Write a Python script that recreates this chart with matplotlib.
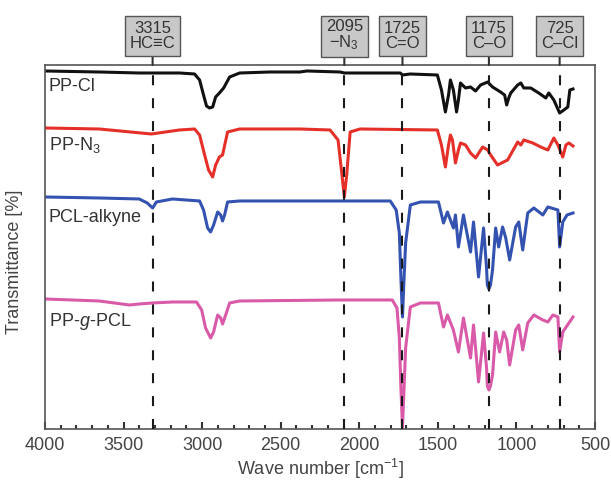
import numpy as np
import matplotlib
matplotlib.use('Agg')
import matplotlib.pyplot as plt
from matplotlib.ticker import MultipleLocator

plt.rcParams['font.family'] = ['Liberation Sans', 'DejaVu Sans']
plt.rcParams['mathtext.fontset'] = 'custom'
plt.rcParams['mathtext.rm'] = 'Liberation Sans'
plt.rcParams['mathtext.it'] = 'Liberation Sans:italic'

# spectra: wave number [cm-1], transmittance (arb. units, offset per sample)
wn_ppcl = [4000, 3655, 3400, 3144, 3048, 3016, 2991, 2972, 2953, 2933, 2914, 2890, 2863, 2825,
           2761, 2569, 2378, 2333, 2122, 2095, 1995, 1739, 1725, 1675, 1503, 1477, 1452, 1432,
           1420, 1401, 1381, 1369, 1356, 1324, 1292, 1260, 1228, 1183, 1152, 1101, 1075, 1062,
           1049, 1036, 992, 972, 953, 909, 858, 813, 794, 762, 725, 698, 673, 660, 640]
t_ppcl = [377, 376, 375, 375, 374, 368, 353, 342, 340, 341, 351, 355, 360, 371,
          375, 376, 376, 377, 376, 375, 375, 375, 373, 374, 373, 358, 336, 353,
          368, 358, 336, 348, 365, 360, 361, 357, 363, 366, 361, 356, 353, 343,
          350, 355, 363, 365, 360, 360, 355, 350, 355, 348, 335, 338, 341, 358, 359]

wn_ppn3 = [4000, 3655, 3323, 3144, 3048, 3016, 2984, 2959, 2933, 2914, 2890, 2870, 2838, 2761,
           2378, 2186, 2135, 2110, 2095, 2080, 2058, 1995, 1503, 1477, 1452, 1432, 1420, 1407,
           1388, 1369, 1356, 1324, 1292, 1260, 1215, 1183, 1164, 1120, 1056, 992, 972, 953,
           896, 845, 800, 762, 736, 705, 685, 666, 640]
t_ppn3 = [320, 319, 314, 318, 319, 313, 293, 278, 271, 283, 291, 293, 316, 319,
          319, 318, 308, 273, 251, 273, 316, 319, 318, 303, 281, 303, 313, 308,
          285, 298, 305, 303, 295, 290, 301, 298, 293, 283, 288, 306, 303, 308,
          305, 301, 298, 310, 303, 291, 303, 305, 302]

wn_pcl = [4000, 3655, 3400, 3349, 3315, 3291, 3189, 3016, 2991, 2965, 2946, 2927, 2901, 2882,
          2870, 2857, 2838, 2761, 2122, 1803, 1765, 1745, 1735, 1725, 1715, 1705, 1675, 1611,
          1496, 1464, 1439, 1401, 1388, 1369, 1337, 1292, 1273, 1241, 1209, 1190, 1185, 1175,
          1165, 1152, 1132, 1113, 1088, 1068, 1043, 1005, 985, 960, 928, 889, 832, 800,
          736, 725, 705, 678, 640]
t_pcl = [251, 250, 249, 245, 240, 246, 249, 247, 238, 220, 216, 223, 236, 233,
         227, 233, 246, 247, 247, 247, 238, 215, 170, 131, 170, 205, 243, 246,
         246, 225, 236, 220, 233, 201, 233, 196, 226, 171, 220, 180, 163, 159,
         163, 178, 220, 201, 221, 210, 188, 221, 226, 198, 235, 240, 233, 241,
         238, 201, 226, 233, 235]

wn_ppg = [4000, 3655, 3463, 3400, 3315, 3189, 3036, 3003, 2978, 2946, 2927, 2901, 2882, 2870,
          2850, 2825, 2761, 2122, 1790, 1760, 1745, 1735, 1725, 1715, 1705, 1675, 1611, 1496,
          1464, 1439, 1401, 1369, 1337, 1292, 1273, 1241, 1209, 1190, 1185, 1175, 1165, 1152,
          1132, 1107, 1081, 1062, 1043, 1005, 985, 960, 928, 889, 832, 800, 768, 736,
          725, 705, 640]
t_ppg = [149, 147, 143, 144, 145, 146, 146, 138, 120, 110, 116, 133, 130, 124,
         133, 145, 147, 148, 148, 140, 110, 60, 21, 60, 100, 141, 145, 145,
         121, 133, 118, 96, 130, 90, 123, 66, 115, 80, 62, 58, 62, 73,
         116, 96, 116, 108, 83, 118, 123, 98, 125, 133, 128, 126, 133, 131,
         96, 116, 131]

names = ['PP-Cl', 'PP-N$_3$', 'PCL-alkyne', 'PP-$g$-PCL']
name_y = [361, 303, 230, 126]
colors = ['#111111', '#e5302a', '#3453b0', '#d95aa8']

peak_wn = [3315, 2095, 1725, 1175, 725]
peak_labels = ['3315\nHC\u2261C', '2095\n\u2212N$_3$', '1725\nC=O', '1175\nC\u2013O', '725\nC\u2013Cl']

fig = plt.figure(figsize=(6.11, 4.8), dpi=100)
ax = fig.add_axes([0.0736, 0.1063, 0.9002, 0.7583])

spectra = [(wn_ppcl, t_ppcl), (wn_ppn3, t_ppn3), (wn_pcl, t_pcl), (wn_ppg, t_ppg)]
for (wn, t), c in zip(spectra, colors):
    ax.plot(wn, t, color=c, lw=2.2, solid_joinstyle='round', zorder=2)

for name, y in zip(names, name_y):
    ax.text(3975, y, name, fontsize=13, va='center', ha='left', color='#333333')

for pk, lab in zip(peak_wn, peak_labels):
    ax.axvline(pk, color='#1a1a1a', lw=1.5, ls=(0, (4.8, 6.2)), zorder=4)
    ax.annotate(lab, xy=(pk, 1), xycoords=('data', 'axes fraction'),
                xytext=(0, 21), textcoords='offset points',
                ha='center', va='center', fontsize=12, linespacing=0.95, color='#333333',
                bbox=dict(boxstyle='square,pad=0.3', fc='#c8c8c8', ec='#555555', lw=1),
                arrowprops=dict(arrowstyle='-', color='#333333', lw=1.5, shrinkA=0, shrinkB=0),
                annotation_clip=False)

ax.set_xlim(4000, 500)
ax.set_ylim(19, 383)
ax.xaxis.set_major_locator(MultipleLocator(500))
ax.xaxis.set_minor_locator(MultipleLocator(100))
ax.tick_params(axis='x', which='major', direction='in', length=5, width=1.5,
               labelsize=13, pad=6, color='#333333', labelcolor='#444444')
ax.tick_params(axis='x', which='minor', direction='in', length=3, width=1.5, color='#333333')
ax.set_yticks([])

for s in ax.spines.values():
    s.set_color('#555555')
    s.set_linewidth(1.2)

ax.set_xlabel('Wave number [cm$^{-1}$]', fontsize=13, color='#444444', labelpad=2)
ax.set_ylabel('Transmittance [%]', fontsize=13, color='#444444')
ax.yaxis.set_label_coords(-0.04, 0.46)

fig.savefig('out.png', dpi=100)
